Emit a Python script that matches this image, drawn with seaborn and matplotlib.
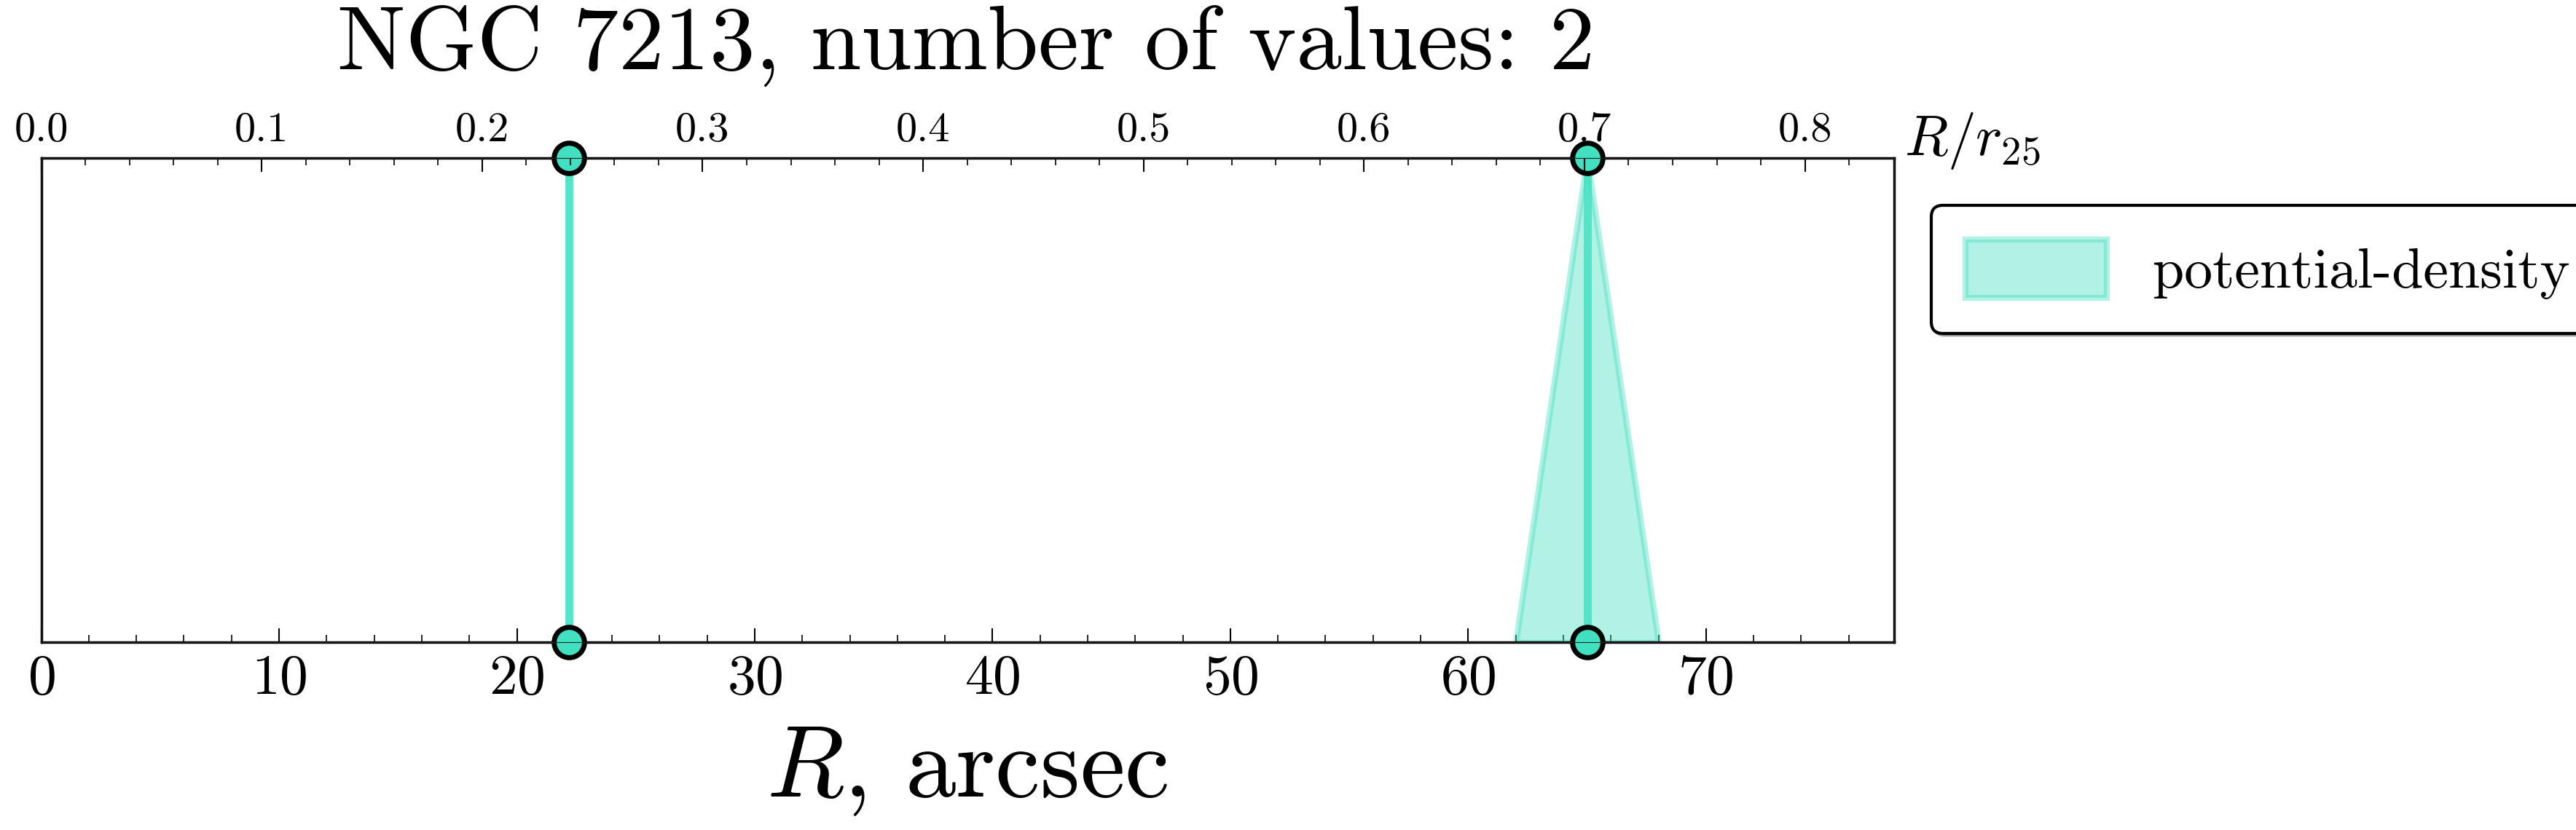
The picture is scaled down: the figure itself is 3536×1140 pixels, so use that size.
import matplotlib
matplotlib.use("Agg")
import matplotlib.pyplot as plt
import seaborn as sns
import numpy as np

sns.set_style("white")
plt.rcParams['font.family'] = ['serif']
plt.rcParams['font.serif'] = ['cmr10', 'DejaVu Serif']
plt.rcParams['mathtext.fontset'] = 'cm'
plt.rcParams['axes.formatter.use_mathtext'] = True
plt.rcParams['text.color'] = 'black'
plt.rcParams['axes.labelcolor'] = 'black'
plt.rcParams['xtick.color'] = 'black'

radii = [22.2, 65.0]
err_low = [22.2, 62.0]
err_high = [22.2, 68.0]
r25 = 92.7
xmax = 77.9
color = "#40E0C0"

fig = plt.figure(figsize=(35.37, 11.40), dpi=100)
ax = fig.add_axes([0.016, 0.226, 0.719, 0.584])

for r, lo, hi in zip(radii, err_low, err_high):
    ax.fill_betweenx([0, 1], [lo, r], [hi, r], color=color, alpha=0.4, lw=6,
                     label="potential-density" if hi > lo else None)
    ax.vlines(r, 0, 1, color=color, lw=8, alpha=0.8)
sns.scatterplot(x=radii + radii, y=[0] * len(radii) + [1] * len(radii), ax=ax,
                s=900, color=color, edgecolor="black", linewidth=5, zorder=5, clip_on=False)

ax.set_xlim(0, xmax)
ax.set_ylim(0, 1)
ax.set_yticks([])
ax.set_xticks(np.arange(0, 80, 10))
ax.set_xticks(np.arange(0, 78, 2), minor=True)
ax.tick_params(axis='x', which='major', direction='in', length=14, width=1.5, labelsize=56, pad=12)
ax.tick_params(axis='x', which='minor', direction='in', length=7, width=1.2)
for s in ax.spines.values():
    s.set_linewidth(2.5)
    s.set_color('black')
ax.set_xlabel(r"$R$, arcsec", fontsize=100, labelpad=20)

ax2 = ax.twiny()
ax2.set_xlim(0, xmax / r25)
ax2.set_xticks(np.arange(0, 0.85, 0.1))
ax2.set_xticklabels([f"{v:.1f}" for v in np.arange(0, 0.85, 0.1)])
ax2.set_xticks(np.arange(0, 0.84, 0.02), minor=True)
ax2.tick_params(axis='x', which='major', direction='in', length=14, width=1.5, labelsize=42, pad=8)
ax2.tick_params(axis='x', which='minor', direction='in', length=7, width=1.2)
fig.text(0.739, 0.83, r"$R/r_{25}$", fontsize=56, ha='left', va='center')
fig.text(0.375, 0.945, "NGC 7213, number of values: 2", fontsize=90, ha='center', va='center')

ax.legend(loc='upper left', bbox_to_anchor=(1.005, 0.96), fontsize=56, fancybox=True,
          shadow=True, framealpha=1, edgecolor='black', borderpad=0.6, handlelength=2.5,
          handleheight=1.2)
ax.get_legend().get_frame().set_linewidth(3)

fig.savefig("out.png", dpi=100)
